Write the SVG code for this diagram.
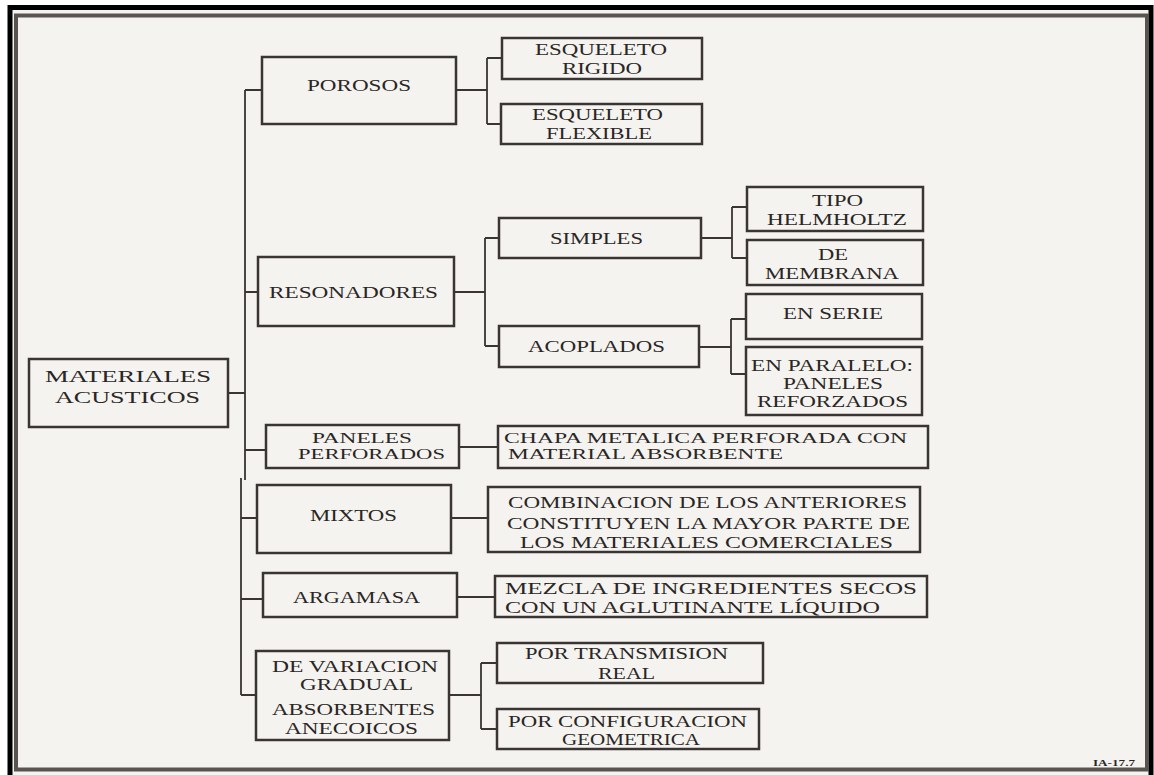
<svg xmlns="http://www.w3.org/2000/svg" width="1154" height="775" viewBox="0 0 1154 775">
<style>
.box{fill:none;stroke:#3a3533;stroke-width:2.5}
.c{fill:none;stroke:#3a3533;stroke-width:1.8}
text{font-family:"Liberation Serif","Times New Roman",serif;font-size:17px;fill:#2a2624;text-anchor:middle}
.s{text-anchor:start}
.t{font-size:15px}
</style>
<rect x="0" y="0" width="1154" height="775" fill="#ffffff"/>
<rect x="10" y="7.5" width="1141" height="790" fill="#f4f3f0" stroke="#000" stroke-width="5"/>
<rect x="16" y="15.5" width="1131" height="754" fill="none" stroke="#5a5450" stroke-width="4"/>
<g id="connectors">
<path class="c" d="M245 90V480M241 478V695M245 90H262M245 292H258M228 393H245M245 450H266M241 518H257M241 599H263M241 695H256"/>
<path class="c" d="M456 90H487M487 58V124M487 58H502M487 124H501"/>
<path class="c" d="M454 292H485M485 238V346M485 238H499M485 346H499"/>
<path class="c" d="M701 238H732M732 207V258M732 207H747M732 258H747"/>
<path class="c" d="M699 347H731M731 319V374M731 319H746M731 374H746"/>
<path class="c" d="M459 447H498M451 518H488M457 597H495"/>
<path class="c" d="M449 695H481M481 663V729M481 663H497M481 729H497"/>
</g>
<g id="materiales"><rect class="box" x="29" y="359" width="199" height="68"/><text x="128" y="382" textLength="166" lengthAdjust="spacingAndGlyphs">MATERIALES</text><text x="127.5" y="403" textLength="145" lengthAdjust="spacingAndGlyphs">ACUSTICOS</text></g>
<g id="porosos"><rect class="box" x="262" y="57" width="194" height="67"/><text x="359" y="91" textLength="104" lengthAdjust="spacingAndGlyphs">POROSOS</text></g>
<g id="rigido"><rect class="box" x="502" y="38" width="200" height="41"/><text x="601" y="55" textLength="132" lengthAdjust="spacingAndGlyphs">ESQUELETO</text><text x="602" y="74" textLength="80" lengthAdjust="spacingAndGlyphs">RIGIDO</text></g>
<g id="flexible"><rect class="box" x="501" y="104" width="201" height="40"/><text x="597.5" y="120" textLength="131" lengthAdjust="spacingAndGlyphs">ESQUELETO</text><text x="599" y="139" textLength="106" lengthAdjust="spacingAndGlyphs">FLEXIBLE</text></g>
<g id="resonadores"><rect class="box" x="258" y="257" width="196" height="69"/><text x="353.5" y="298" textLength="169" lengthAdjust="spacingAndGlyphs">RESONADORES</text></g>
<g id="simples"><rect class="box" x="499" y="218" width="202" height="40"/><text x="596.5" y="244" textLength="93" lengthAdjust="spacingAndGlyphs">SIMPLES</text></g>
<g id="acoplados"><rect class="box" x="499" y="326" width="200" height="41"/><text x="596.5" y="352" textLength="137" lengthAdjust="spacingAndGlyphs">ACOPLADOS</text></g>
<g id="helmholtz"><rect class="box" x="747" y="187" width="176" height="44"/><text x="837.5" y="206" textLength="51" lengthAdjust="spacingAndGlyphs">TIPO</text><text x="837" y="225" textLength="140" lengthAdjust="spacingAndGlyphs">HELMHOLTZ</text></g>
<g id="membrana"><rect class="box" x="747" y="240" width="176" height="45"/><text x="833" y="260" textLength="30" lengthAdjust="spacingAndGlyphs">DE</text><text x="832" y="279" textLength="134" lengthAdjust="spacingAndGlyphs">MEMBRANA</text></g>
<g id="serie"><rect class="box" x="746" y="294" width="176" height="45"/><text x="833" y="319" textLength="100" lengthAdjust="spacingAndGlyphs">EN SERIE</text></g>
<g id="paralelo"><rect class="box" x="746" y="347" width="176" height="68"/><text x="832" y="371" textLength="162" lengthAdjust="spacingAndGlyphs">EN PARALELO:</text><text x="833" y="389" textLength="100" lengthAdjust="spacingAndGlyphs">PANELES</text><text x="832.5" y="407" textLength="151" lengthAdjust="spacingAndGlyphs">REFORZADOS</text></g>
<g id="paneles"><rect class="box" x="266" y="425" width="193" height="43"/><text class="t" x="362" y="443" textLength="100" lengthAdjust="spacingAndGlyphs">PANELES</text><text class="t" x="371.5" y="459" textLength="147" lengthAdjust="spacingAndGlyphs">PERFORADOS</text></g>
<g id="chapa"><rect class="box" x="498" y="426" width="430" height="42"/><text class="s t" x="504" y="443" textLength="403" lengthAdjust="spacingAndGlyphs">CHAPA  METALICA  PERFORADA CON</text><text class="s t" x="508" y="459" textLength="275" lengthAdjust="spacingAndGlyphs">MATERIAL  ABSORBENTE</text></g>
<g id="mixtos"><rect class="box" x="257" y="485" width="194" height="68"/><text x="353.5" y="521" textLength="87" lengthAdjust="spacingAndGlyphs">MIXTOS</text></g>
<g id="combinacion"><rect class="box" x="488" y="487" width="432" height="65"/><text x="707.5" y="508" textLength="399" lengthAdjust="spacingAndGlyphs">COMBINACION DE LOS ANTERIORES</text><text x="708.5" y="529" textLength="403" lengthAdjust="spacingAndGlyphs">CONSTITUYEN LA MAYOR PARTE DE</text><text x="706.5" y="548" textLength="373" lengthAdjust="spacingAndGlyphs">LOS MATERIALES COMERCIALES</text></g>
<g id="argamasa"><rect class="box" x="263" y="573" width="194" height="44"/><text x="356.5" y="603" textLength="127" lengthAdjust="spacingAndGlyphs">ARGAMASA</text></g>
<g id="mezcla"><rect class="box" x="495" y="576" width="432" height="41"/><text class="s" x="505" y="594" textLength="412" lengthAdjust="spacingAndGlyphs">MEZCLA  DE  INGREDIENTES  SECOS</text><text class="s" x="505" y="613" textLength="375" lengthAdjust="spacingAndGlyphs">CON  UN  AGLUTINANTE  LÍQUIDO</text></g>
<g id="variacion"><rect class="box" x="256" y="651" width="193" height="89"/><text x="355" y="672" textLength="166" lengthAdjust="spacingAndGlyphs">DE VARIACION</text><text x="356.5" y="690" textLength="113" lengthAdjust="spacingAndGlyphs">GRADUAL</text><text x="353.5" y="715" textLength="163" lengthAdjust="spacingAndGlyphs">ABSORBENTES</text><text x="351.5" y="734" textLength="133" lengthAdjust="spacingAndGlyphs">ANECOICOS</text></g>
<g id="transmision"><rect class="box" x="497" y="643" width="266" height="40"/><text x="626.5" y="659" textLength="203" lengthAdjust="spacingAndGlyphs">POR TRANSMISION</text><text x="626.5" y="679" textLength="57" lengthAdjust="spacingAndGlyphs">REAL</text></g>
<g id="configuracion"><rect class="box" x="497" y="709" width="262" height="40"/><text x="627.5" y="727" textLength="239" lengthAdjust="spacingAndGlyphs">POR CONFIGURACION</text><text x="631" y="745" textLength="138" lengthAdjust="spacingAndGlyphs">GEOMETRICA</text></g>
<g id="label"><text class="s" x="1093" y="766" style="font-size:8px;font-weight:bold" textLength="42" lengthAdjust="spacingAndGlyphs">IA-17.7</text></g>
</svg>
